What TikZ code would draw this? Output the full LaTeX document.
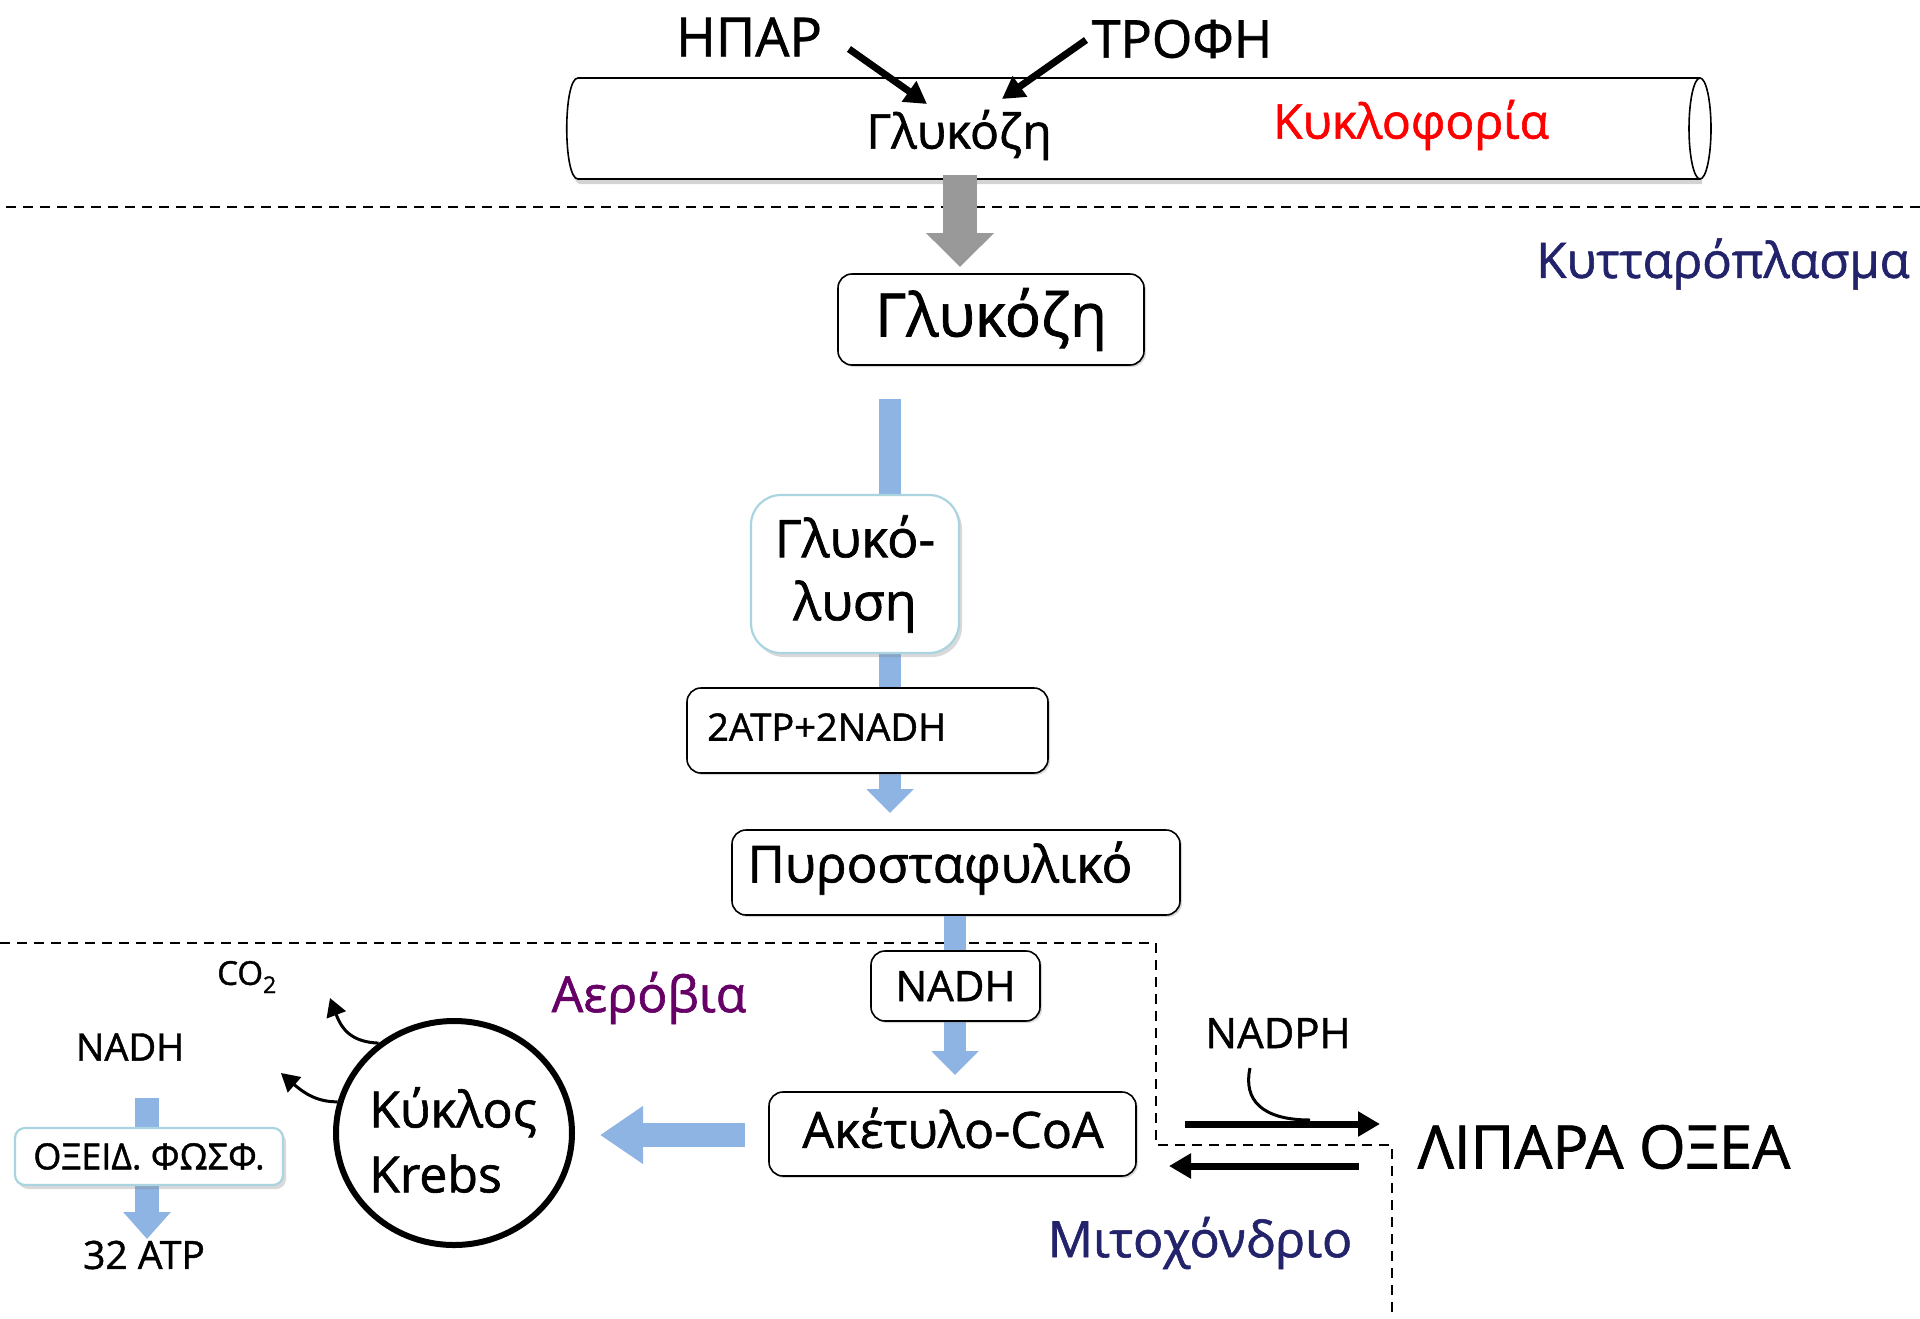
\documentclass[tikz,border=0pt]{standalone}
\usepackage{fontspec}
\setmainfont{Open Sans}[BoldFont={Open Sans}, BoldFeatures={FakeBold=1.2}]
\usetikzlibrary{arrows.meta,shadows,shapes.geometric}
\definecolor{navy}{RGB}{35,35,107}
\definecolor{purp}{RGB}{102,0,102}
\definecolor{flowblue}{RGB}{141,180,226}
\definecolor{edgeblue}{RGB}{170,212,224}
\definecolor{arrowgray}{RGB}{153,153,153}
\newcommand\fsz[1]{\fontsize{#1}{#1}\selectfont\bfseries}
\begin{document}
\begin{tikzpicture}[x=1pt,y=-1pt,
  box/.style={draw, line width=1.6pt, rounded corners=14pt, fill=white, inner sep=0pt,
    drop shadow={shadow xshift=2pt,shadow yshift=-2pt,opacity=0.3}},
  softbox/.style={draw=edgeblue, line width=2.2pt, fill=white, inner sep=0pt,
    drop shadow={shadow xshift=3pt,shadow yshift=-4pt,opacity=0.3}},
  flow/.style={draw=flowblue, line width=22pt, -{Triangle[width=46pt,length=24pt]}},
  blackarrow/.style={draw=black, line width=7pt, -{Triangle[width=24pt,length=22pt]}},
  thinarrow/.style={draw=black, line width=3pt, -{Triangle[width=20pt,length=18pt]}},
  sep/.style={draw=black, line width=2.2pt, dash pattern=on 10pt off 7pt},
  txt/.style={inner sep=0pt}]
\useasboundingbox (0,0) rectangle (1920,1318);

% circulation tube
\fill[white, drop shadow={shadow xshift=2pt,shadow yshift=-5pt,opacity=0.35}]
  (1700,78) -- (578,78) .. controls (563,78) and (563,179) .. (578,179) -- (1700,179) -- cycle;
\draw[line width=1.6pt] (1700,78) -- (578,78) .. controls (563,78) and (563,179) .. (578,179) -- (1700,179);
\draw[line width=1.6pt, fill=white] (1700,128.5) ellipse [x radius=11, y radius=50.5];

\node[txt, font=\fsz{48}] (tubeglu) at (959,135) {Γλυκόζη};
\node[txt, font=\fsz{48}, text=red] (kykl) at (1411,125) {Κυκλοφορία};
\node[txt, font=\fsz{54}] (hpar) at (749,37) {ΗΠΑΡ};
\node[txt, font=\fsz{52}] (trofi) at (1182,39) {ΤΡΟΦΗ};
\coordinate (hparA) at (849,49);
\coordinate (hparB) at (927,104);
\coordinate (trofA) at (1086,40);
\coordinate (trofB) at (1002,99);
\draw[blackarrow] (hparA) -- (hparB);
\draw[blackarrow] (trofA) -- (trofB);

% separator cytoplasm
\draw[sep] (6,207) -- (1920,207);

% gray arrow from tube
\coordinate (gA) at (960,175);
\coordinate (gB) at (960,267);
\draw[draw=arrowgray, line width=34pt, -{Triangle[width=66pt,length=34pt]}] (gA) -- (gB);

\node[txt, font=\fsz{49}, text=navy] (cyto) at (1723,264) {Κυτταρόπλασμα};

% glucose box
\node[box, minimum width=306pt, minimum height=91pt, font=\fsz{60}] (glu) at (991,319.5) {Γλυκόζη};

% flow 1
\coordinate (f1a) at (890,399);
\coordinate (f1b) at (890,813);
\draw[flow] (f1a) -- (f1b);

\node[softbox, rounded corners=30pt, minimum width=208pt, minimum height=158pt,
  align=center, font=\fontsize{52}{63}\selectfont\bfseries] (glyc) at (855,574) {Γλυκό-\\λυση};

\node[box, minimum width=361pt, minimum height=85pt] (atp) at (867.5,730.5) {};
\node[txt, font=\fsz{38}, anchor=west] (atptxt) at (707,727) {2ATP+2NADH};

\node[box, minimum width=448pt, minimum height=85pt] (pyr) at (956,872.5) {};
\node[txt, font=\fsz{51}] (pyrtxt) at (940,868) {Πυροσταφυλικό};

% mitochondrion separator
\draw[sep, line width=1.8pt] (0,943) -- (1156,943) -- (1156,1145) -- (1392,1145) -- (1392,1318);

% flow 2
\coordinate (f2a) at (955,916);
\coordinate (f2b) at (955,1075);
\draw[flow] (f2a) -- (f2b);
\node[box, minimum width=169pt, minimum height=70pt, font=\fsz{42}] (nadh) at (955.5,986) {NADH};

\node[box, minimum width=367pt, minimum height=84pt] (acoa) at (952.5,1134) {};
\node[txt, font=\fsz{50}] (acoatxt) at (953,1128) {Ακέτυλο-CoA};

% flow to Krebs
\coordinate (f3a) at (745,1135);
\coordinate (f3b) at (600,1135);
\draw[draw=flowblue, line width=24pt, -{Triangle[width=55pt,length=43pt]}] (f3a) -- (f3b);

% Krebs cycle
\node[ellipse, draw, line width=6pt, fill=white, minimum width=236pt, minimum height=224pt,
  inner sep=0pt] (krebs) at (454,1133) {};
\node[txt, font=\fontsize{50}{65}\selectfont\bfseries, align=left] (krebstxt) at (453,1140) {Κύκλος\\Krebs};

\coordinate (co2tip) at (330,998);
\coordinate (nadhtip) at (281,1073);
\draw[thinarrow] (krebs.130) .. controls (352,1042) and (342,1030) .. (co2tip);
\draw[thinarrow] (krebs.165) .. controls (318,1102) and (305,1094) .. (nadhtip);

\node[txt, font=\fsz{33}] (co2) at (247,977) {CO\textsubscript{2}};
\node[txt, font=\fsz{50}, text=purp] (aerob) at (649,998) {Αερόβια};
\node[txt, font=\fsz{38}] (nadhl) at (130,1047) {NADH};

% oxidative phosphorylation
\coordinate (f4a) at (147,1098);
\coordinate (f4b) at (147,1239);
\draw[draw=flowblue, line width=24pt, -{Triangle[width=46pt,length=27pt]}] (f4a) -- (f4b);
\node[softbox, rounded corners=10pt, minimum width=268pt, minimum height=57pt, font=\fsz{36}] (ox) at (149,1156.5) {ΟΞΕΙΔ. ΦΩΣΦ.};
\node[txt, font=\fsz{39}] (atp32) at (144,1255) {32 ATP};

% fatty acids
\node[txt, font=\fsz{42}] (nadph) at (1278,1033) {NADPH};
\node[txt, font=\fsz{60}] (lipara) at (1604,1147) {ΛΙΠΑΡΑ ΟΞΕΑ};
\coordinate (rA) at (1185,1124);
\coordinate (rB) at (1380,1124);
\coordinate (lA) at (1359,1166);
\coordinate (lB) at (1169,1166);
\draw[blackarrow] (rA) -- (rB);
\draw[blackarrow] (lA) -- (lB);
\coordinate (nadphstart) at (1250,1068);
\coordinate (nadphjoin) at (1310,1120);
\draw[line width=3pt] (nadphstart) .. controls (1243,1100) and (1262,1120) .. (nadphjoin);

\node[txt, font=\fsz{50}, text=navy] (mito) at (1200,1243) {Μιτοχόνδριο};
\end{tikzpicture}
\end{document}
